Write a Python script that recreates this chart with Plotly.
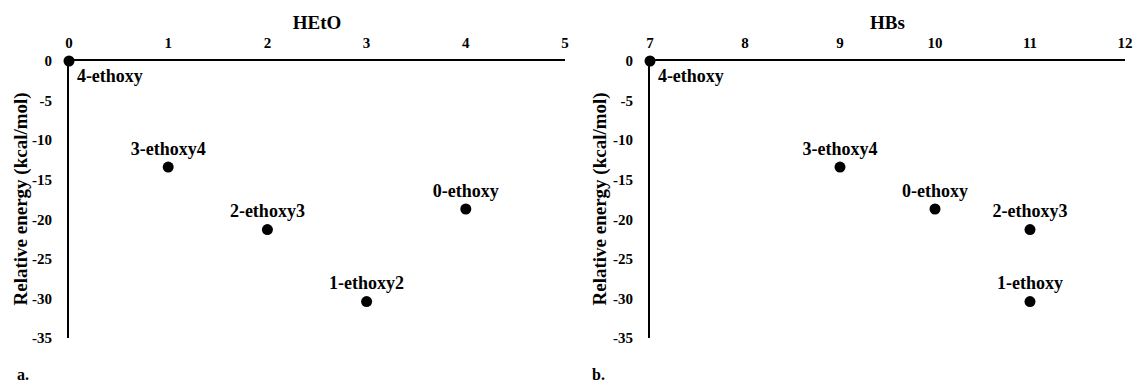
import plotly.graph_objects as go

# Panel a: HEtO
heto_x = [0, 1, 2, 3, 4]
heto_y = [0, -13.4, -21.3, -30.4, -18.7]
heto_labels = ["4-ethoxy", "3-ethoxy4", "2-ethoxy3", "1-ethoxy2", "0-ethoxy"]

# Panel b: HBs
hbs_x = [7, 9, 10, 11, 11]
hbs_y = [0, -13.4, -18.7, -21.3, -30.4]
hbs_labels = ["4-ethoxy", "3-ethoxy4", "0-ethoxy", "2-ethoxy3", "1-ethoxy"]

y_ticks = [0, -5, -10, -15, -20, -25, -30, -35]
heto_ticks = [0, 1, 2, 3, 4, 5]
hbs_ticks = [7, 8, 9, 10, 11, 12]

y_title = "Relative energy (kcal/mol)"

FONT = "Liberation Serif"
W, H = 1135, 384

def positions(labels):
    return ["bottom right" if l == "4-ethoxy" else "top center" for l in labels]

fig = go.Figure()
fig.add_trace(go.Scatter(
    x=heto_x, y=heto_y, mode="markers+text", text=heto_labels,
    textposition=positions(heto_labels),
    textfont=dict(family=FONT, size=18, color="black", weight="bold"),
    marker=dict(color="black", size=11), cliponaxis=False,
    xaxis="x", yaxis="y", showlegend=False))
fig.add_trace(go.Scatter(
    x=hbs_x, y=hbs_y, mode="markers+text", text=hbs_labels,
    textposition=positions(hbs_labels),
    textfont=dict(family=FONT, size=18, color="black", weight="bold"),
    marker=dict(color="black", size=11), cliponaxis=False,
    xaxis="x2", yaxis="y2", showlegend=False))

tickfont = dict(family=FONT, size=15, color="black", weight="bold")
titlefont = dict(family=FONT, size=19, color="black", weight="bold")

xa_common = dict(side="top", showline=True, linecolor="black", linewidth=2,
                 showgrid=False, zeroline=False, ticks="", tickfont=tickfont,
                 automargin=False, ticklabelstandoff=5,
                 title_font=titlefont, title_standoff=0)
ya_common = dict(showline=True, linecolor="black", linewidth=2, showgrid=False,
                 zeroline=False, ticks="", tickfont=tickfont, range=[-35, 0],
                 tickvals=y_ticks, ticktext=[str(v) for v in y_ticks],
                 automargin=False, ticklabelstandoff=12)

ydom = [(H - 338) / H, (H - 61) / H]
ymid = (ydom[0] + ydom[1]) / 2

def ytitle(xpx):
    return dict(text=y_title, x=xpx / W, y=ymid, xref="paper", yref="paper",
                showarrow=False, textangle=-90, xanchor="center", yanchor="middle",
                font=titlefont)

def panel_label(txt, xpx):
    return dict(text=txt, x=xpx / W, y=(H - 374) / H, xref="paper", yref="paper",
                showarrow=False, xanchor="left", yanchor="middle",
                font=dict(family=FONT, size=16, color="black", weight="bold"))

fig.update_layout(
    width=W, height=H, margin=dict(l=0, r=0, t=0, b=0),
    paper_bgcolor="white", plot_bgcolor="white",
    font=dict(family=FONT, color="black"),
    xaxis=dict(domain=[69 / W, 565 / W], range=[0, 5], tickvals=heto_ticks,
               title=dict(text="HEtO"), anchor="y", **xa_common),
    yaxis=dict(domain=ydom, anchor="x", **ya_common),
    xaxis2=dict(domain=[650 / W, 1125 / W], range=[7, 12], tickvals=hbs_ticks,
                title=dict(text="HBs"), anchor="y2", **xa_common),
    yaxis2=dict(domain=ydom, anchor="x2", **ya_common),
    annotations=[ytitle(20), ytitle(599), panel_label("a.", 15), panel_label("b.", 590)],
)

fig.write_html("out.html", config={"displayModeBar": False},
               post_script="document.body.style.margin='0';document.body.style.overflow='hidden';")
